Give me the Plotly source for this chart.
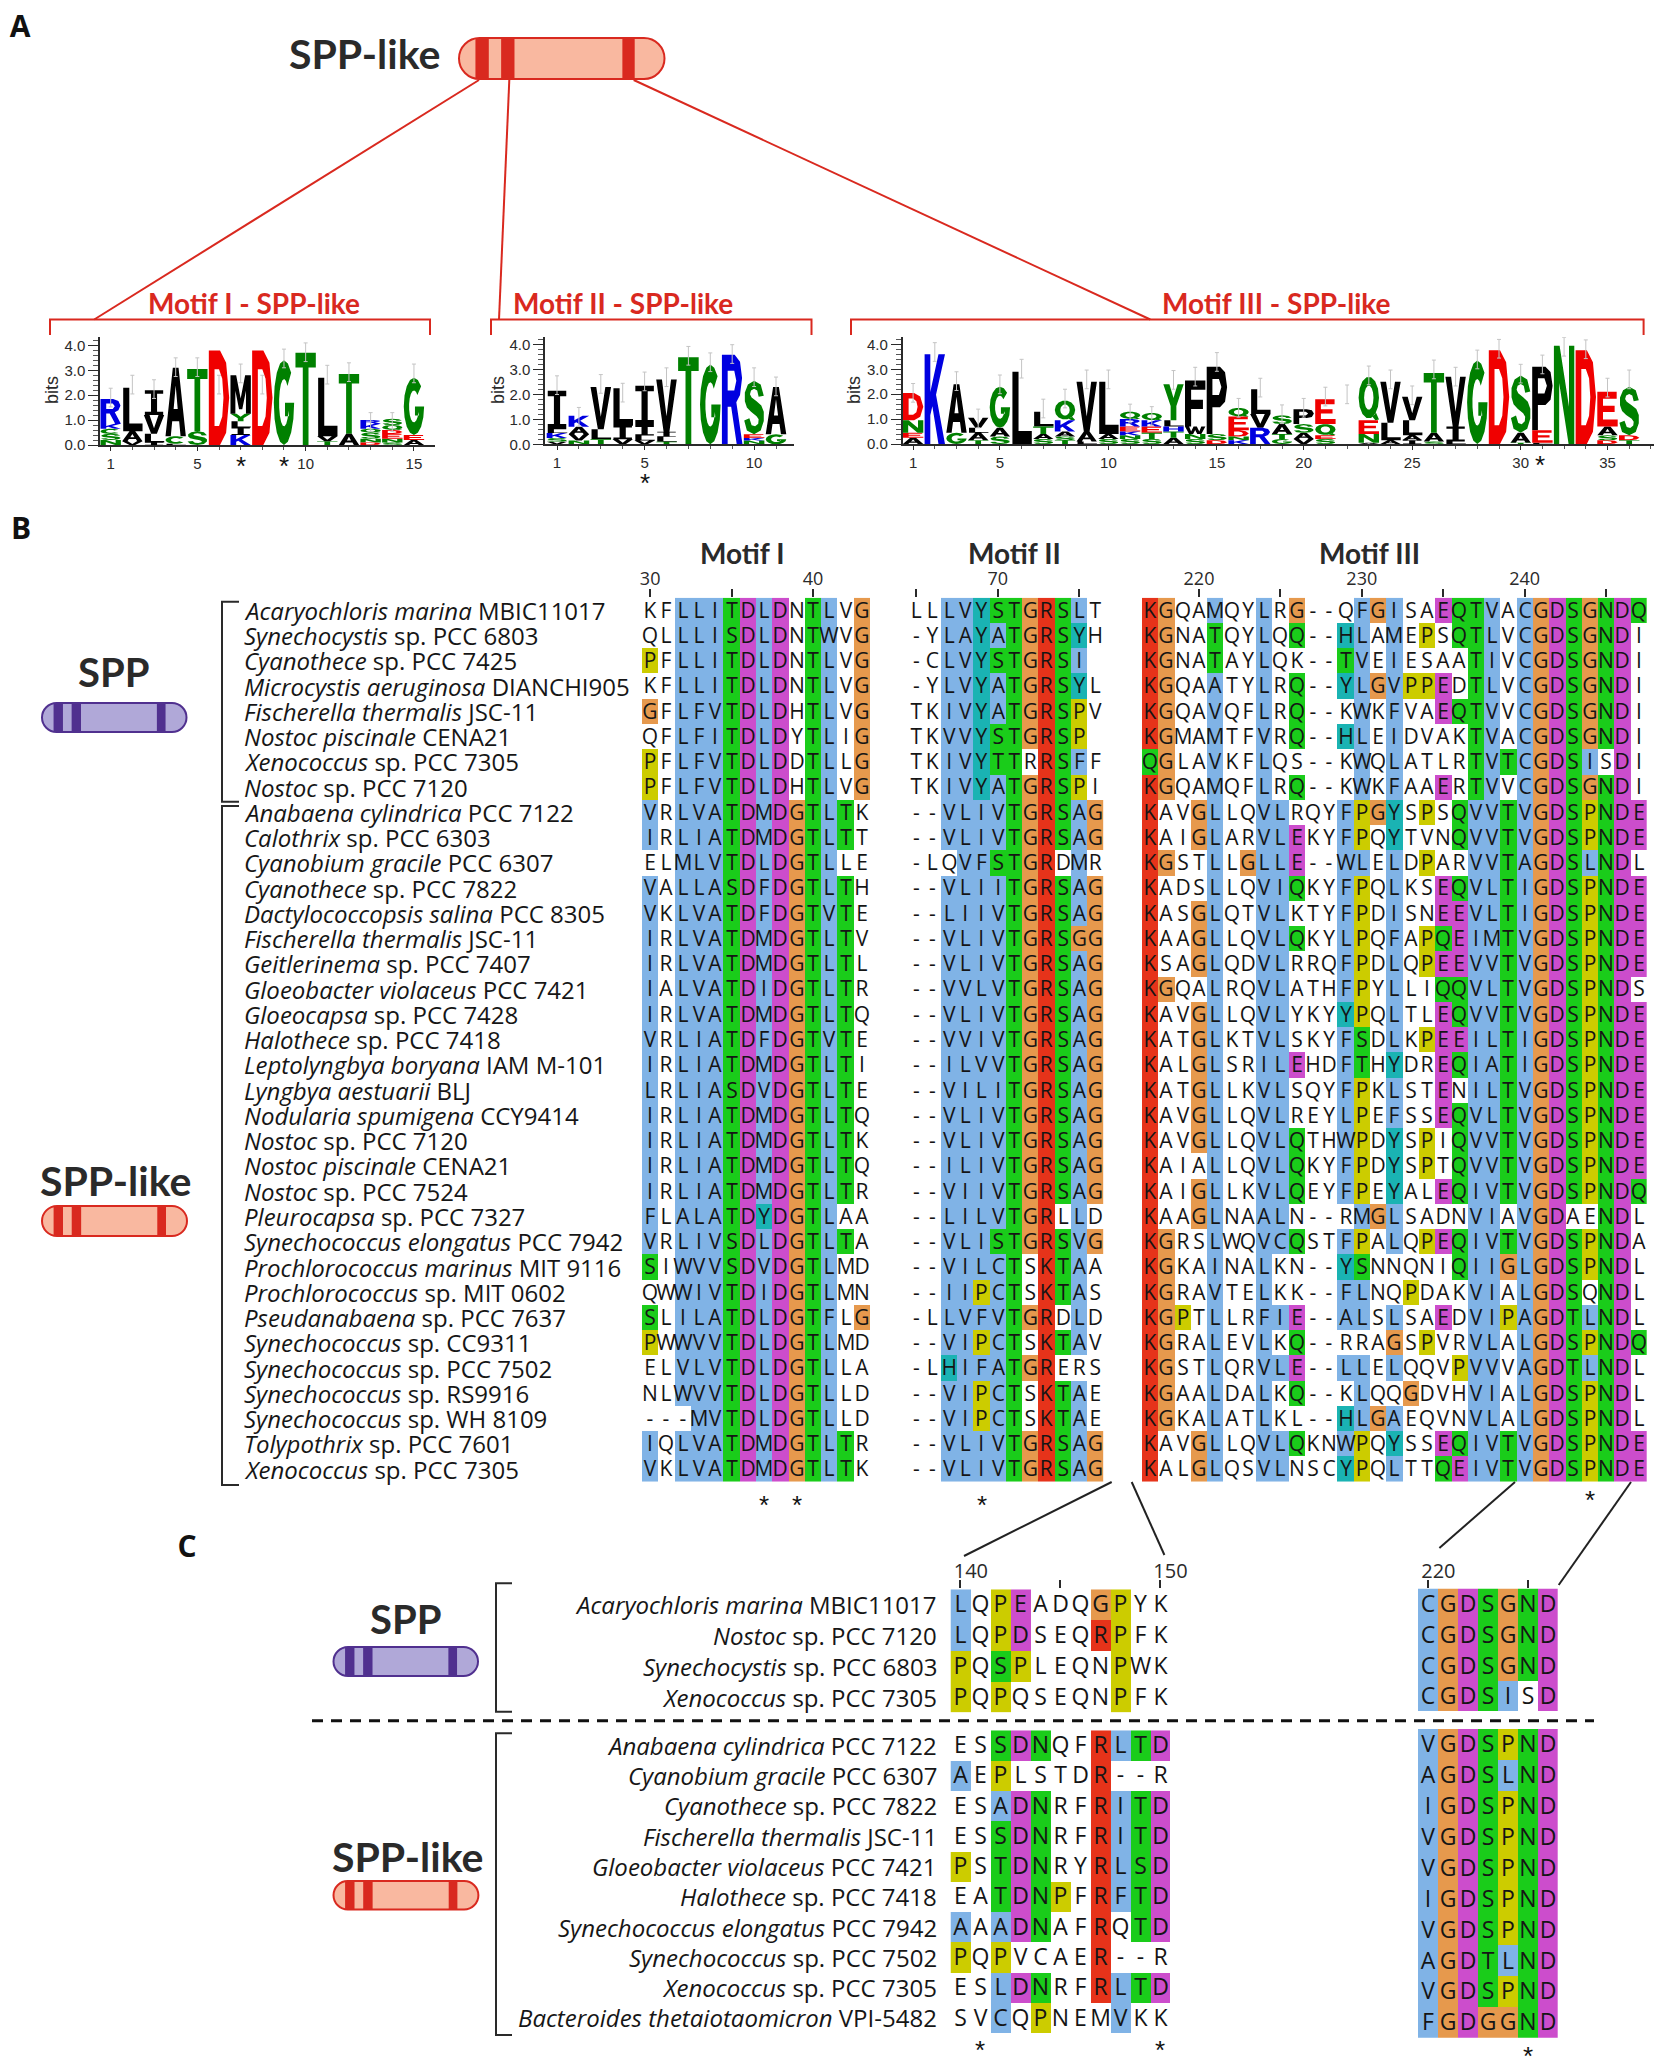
import math
import plotly.graph_objects as go

W, H = 1654, 2058

# ---- alignments: uppercase = coloured cell, lowercase = white cell ----
species_b = [
    ("Acaryochloris marina", "MBIC11017"), ("Synechocystis", "sp. PCC 6803"), ("Cyanothece", "sp. PCC 7425"),
    ("Microcystis aeruginosa", "DIANCHI905"), ("Fischerella thermalis", "JSC-11"), ("Nostoc piscinale", "CENA21"),
    ("Xenococcus", "sp. PCC 7305"), ("Nostoc", "sp. PCC 7120"), ("Anabaena cylindrica", "PCC 7122"),
    ("Calothrix", "sp. PCC 6303"), ("Cyanobium gracile", "PCC 6307"), ("Cyanothece", "sp. PCC 7822"),
    ("Dactylococcopsis salina", "PCC 8305"), ("Fischerella thermalis", "JSC-11"), ("Geitlerinema", "sp. PCC 7407"),
    ("Gloeobacter violaceus", "PCC 7421"), ("Gloeocapsa", "sp. PCC 7428"), ("Halothece", "sp. PCC 7418"),
    ("Leptolyngbya boryana", "IAM M-101"), ("Lyngbya aestuarii", "BLJ"), ("Nodularia spumigena", "CCY9414"),
    ("Nostoc", "sp. PCC 7120"), ("Nostoc piscinale", "CENA21"), ("Nostoc", "sp. PCC 7524"),
    ("Pleurocapsa", "sp. PCC 7327"), ("Synechococcus elongatus", "PCC 7942"), ("Prochlorococcus marinus", "MIT 9116"),
    ("Prochlorococcus", "sp. MIT 0602"), ("Pseudanabaena", "sp. PCC 7637"), ("Synechococcus", "sp. CC9311"),
    ("Synechococcus", "sp. PCC 7502"), ("Synechococcus", "sp. RS9916"), ("Synechococcus", "sp. WH 8109"),
    ("Tolypothrix", "sp. PCC 7601"), ("Xenococcus", "sp. PCC 7305"),
]

motif1 = [
    "kfLLITDLDnTLvG", "qlLLISDLDnTWvG", "PfLLITDLDnTLvG", "kfLLITDLDnTLvG", "GfLFVTDLDhTLvG", "qfLFITDLDyTLiG",
    "PfLFVTDLDdTLlG", "PfLFVTDLDhTLvG", "VrLVATDMDGTLTk", "IrLIATDMDGTLTt", "elMLVTDLDGTLle", "VaLLASDFDGTLTh",
    "VkLVATDFDGTVTe", "IrLVATDMDGTLTv", "IrLVATDMDGTLTl", "IaLVATDIDGTLTr", "IrLVATDMDGTLTq", "VrLIATDFDGTVTe",
    "IrLIATDMDGTLTi", "LrLIASDVDGTLTe", "IrLIATDMDGTLTq", "IrLIATDMDGTLTk", "IrLIATDMDGTLTq", "IrLIATDMDGTLTr",
    "FlALATDYDGTLaa", "VrLIVSDLDGTLTa", "SiWVVSDVDGTLmd", "qwWIVTDIDGTLmn", "SlILATDLDGTFlG", "PwWVVTDLDGTLmd",
    "elVLVTDLDGTLla", "nlWVVTDLDGTLld", "---MVTDLDGTLld", "IqLVATDMDGTLTr", "VkLVATDMDGTLTk",
]
motif2 = [
    "llLVYSTGRSLt", "-yLAYATGRSYh", "-cLVYSTGRSI ", "-yLVYATGRSYl", "tkIVYATGRSPv", "tkVVYSTGRSP ",
    "tkIVYTTrRSFf", "tkIVYATGRSPi", "--VLIVTGRSAG", "--VLIVTGRSAG", "-lqVFSTGRdMr", "--VLIITGRSAG",
    "--LIIVTGRSAG", "--VLIVTGRSGG", "--VLIVTGRSAG", "--VVLVTGRSAG", "--VLIVTGRSAG", "--VVIVTGRSAG",
    "--ILVVTGRSAG", "--VILITGRSAG", "--VLIVTGRSAG", "--VLIVTGRSAG", "--ILIVTGRSAG", "--VIIVTGRSAG",
    "--LILVTGRlLd", "--VLISTGRSVG", "--VILCTsKTAa", "--IIPCTsKTAs", "-lLVFVTGRdLd", "--VIPCTsKTAv",
    "-lHIFATGRers", "--VIPCTsKTAe", "--VIPCTsKTAe", "--VLIVTGRSAG", "--VLIVTGRSAG",
]
motif3 = [
    "KGqaMqyLrG--qFGIsaEQTVaCGDSGNDQ", "KGnaTqyLqQ--HLaMePsQTLvCGDSGNDi", "KGnaTayLqk--TVeIesaaTIvCGDSGNDi",
    "KGqaAtyLrQ--YLGVPPEdTLvCGDSGNDi", "KGqaVqfLrQ--kWkFvaEQTVvCGDSGNDi", "KGmaMtfVrQ--HLeIdvakTVaCGDSGNDi",
    "QGlaVkfLqs--kWqLatlrTVTCGDSIsDi", "KGqaMqfLrQ--kWkFaaErTVvCGDSGNDi", "KavGLlqVLrqyFPGYsPsQVVTVGDSPNDE",
    "KaiGLarVLEkyFPqYtvnQVVTVGDSPNDE", "KGstLlGLLE--WLeLdParVVTAGDSLNDl", "KadsLlqVIQkyFPqLksEQVLTIGDSPNDE",
    "KasGLqtVLktyFPdIsnEEVLTIGDSPNDE", "KaaGLlqVLQkyLPqFaPQEIMTVGDSPNDE", "KsaGLqdVLrrqFPdLqPEEVVTVGDSPNDE",
    "KGqaLrqVLathFPyLliQQVLTVGDSPNDs", "KavGLlqVLykyYPqLtlEQVVTVGDSPNDE", "KatGLktVLskyFSdLkPEEILTIGDSPNDE",
    "KalGLsrILEhdFThYdrEQIATIGDSPNDE", "KatGLlkVLsqyFPkLstEnILTVGDSPNDE", "KavGLlqVLreyLPeFssEQVLTVGDSPNDE",
    "KavGLlqVLQthWPdYsPiQVVTVGDSPNDE", "KaiaLlqVLQkyFPdYsPtQVVTVGDSPNDE", "KaiGLlkVLQeyFPeYalEQIVTVGDSPNDQ",
    "KaaGLnaALn--rMGLsadnVIaVGDaeNDl", "KGrsLwqVCQstFPaLqPEQIVTVGDSPNDa", "KGkaInaLkn--YSnnqniQIIGLGDSPNDl",
    "KGraVteLkk--FLnqPdakVIaLGDSqNDl", "KGPtLlrFIE--ALsLsaEdVIPAGDTLNDl", "KGraLevLkQ--rraGsPvrVLaLGDSPNDQ",
    "KGstLqrVLE--LLeLqqvPVVvAGDTLNDl", "KGaaLdaLkQ--kLqqGdvhVIaLGDSPNDl", "KGkaLatLkl--HLGAeqvnVLaLGDSPNDl",
    "KavGLlqVLQknWPqYssEQIVTVGDSPNDE", "KalGLqsVLnscYPqLttQEIVTVGDSPNDE",
]

species_c_top = [("Acaryochloris marina", "MBIC11017"), ("Nostoc", "sp. PCC 7120"),
                 ("Synechocystis", "sp. PCC 6803"), ("Xenococcus", "sp. PCC 7305")]
species_c_low = [("Anabaena cylindrica", "PCC 7122"), ("Cyanobium gracile", "PCC 6307"),
                 ("Cyanothece", "sp. PCC 7822"), ("Fischerella thermalis", "JSC-11"),
                 ("Gloeobacter violaceus", "PCC 7421"), ("Halothece", "sp. PCC 7418"),
                 ("Synechococcus elongatus", "PCC 7942"), ("Synechococcus", "sp. PCC 7502"),
                 ("Xenococcus", "sp. PCC 7305"), ("Bacteroides thetaiotaomicron", "VPI-5482")]
c_left_top = ["LqPEadqGPyk", "LqPDseqRPfk", "PqSPleqnPwk", "PqPqseqnPfk"]
c_left_low = ["esSDNqfRLTD", "AePlstdR--r", "esADNrfRITD", "esSDNrfRITD", "PsTDNryRLSD",
              "eaTDNPfRFTD", "AaADNafRqTD", "PqPvcaeR--r", "esLDNrfRLTD", "svCqPnemVkk"]
c_right_top = ["CGDSGND", "CGDSGND", "CGDSGND", "CGDSIsD"]
c_right_low = ["VGDSPND", "AGDSLND", "IGDSPND", "VGDSPND", "VGDSPND",
               "IGDSPND", "VGDSPND", "AGDTLND", "VGDSPND", "FGDGGND"]

# ---- sequence logos: one stack per position, bottom to top, heights in bits ----
logo1_stacks = [
    [("N", .2), ("S", .25), ("C", .2), ("K", .2), ("R", 1.0)],
    [("V", .15), ("A", .4), ("L", 1.75)],
    [("I", .1), ("L", .35), ("V", .75), ("I", 1.0)],
    [("L", .05), ("C", .3), ("A", 2.75)],
    [("S", .55), ("T", 2.5)],
    [("D", 3.8)],
    [("K", .4), ("I", .3), ("L", .25), ("Y", .3), ("M", 1.55)],
    [("D", 3.8)],
    [("G", 3.4)],
    [("T", 3.7)],
    [("T", .15), ("V", .2), ("L", 2.35)],
    [("A", .45), ("T", 2.4)],
    [("D", .1), ("N", .15), ("S", .25), ("Q", .15), ("K", .2), ("R", .15)],
    [("S", .1), ("N", .15), ("E", .2), ("D", .15), ("Q", .2), ("S", .25)],
    [("A", .2), ("E", .2), ("G", 2.3)],
]
logo1_bar_tops = [2.28, 2.8, 2.62, 3.5, 3.5, 2.8, 3.25, 2.8, 3.85, 4.1, 3.2, 3.3, 1.3, 1.3, 3.25]
logo1_stars = [7, 9]

logo2_stacks = [
    [("V", .1), ("S", .15), ("K", .2), ("L", .15), ("I", 1.55)],
    [("N", .15), ("V", .25), ("A", .3), ("K", .45)],
    [("T", .2), ("L", .4), ("V", 1.7)],
    [("V", .2), ("I", .55), ("L", 1.5)],
    [("V", .15), ("L", .2), ("I", .4), ("I", 1.6)],
    [("T", .1), ("L", .2), ("I", .2), ("V", 2.1)],
    [("T", 3.5)],
    [("G", 3.2)],
    [("R", 3.6)],
    [("N", .15), ("K", .1), ("E", .15), ("S", 2.15)],
    [("G", .4), ("A", 1.9)],
]
logo2_bar_tops = [2.75, 1.48, 2.8, 2.45, 2.9, 3.07, 3.93, 3.67, 4.0, 3.07, 2.7]
logo2_stars = [5]

logo3_stacks = [
    [("A", .25), ("E", .2), ("N", .5), ("D", 1.1)],
    [("K", 3.6)],
    [("G", .45), ("A", 1.95)],
    [("T", .15), ("A", .3), ("L", .2), ("V", .4)],
    [("S", .3), ("A", .35), ("G", 1.65)],
    [("L", 2.9)],
    [("S", .2), ("A", .2), ("T", .3), ("L", .6)],
    [("T", .15), ("S", .15), ("A", .2), ("K", .45), ("Q", .8)],
    [("L", .1), ("A", .4), ("V", 2.0)],
    [("S", .2), ("A", .2), ("L", 2.1)],
    [("S", .2), ("N", .15), ("K", .15), ("E", .2), ("R", .3), ("Q", .3)],
    [("S", .2), ("T", .25), ("E", .25), ("K", .25), ("Q", .3)],
    [("A", .25), ("T", .25), ("H", .2), ("L", .25), ("Y", 1.45)],
    [("S", .2), ("N", .2), ("W", .3), ("F", 1.85)],
    [("D", .15), ("S", .25), ("P", 2.7)],
    [("K", .15), ("N", .15), ("D", .25), ("E", .55), ("Q", .35)],
    [("R", .65), ("V", .55), ("L", 1.0)],
    [("G", .2), ("T", .2), ("A", .4), ("S", .35)],
    [("V", .2), ("A", .25), ("S", .35), ("P", .6)],
    [("S", .2), ("E", .15), ("Q", .45), ("E", 1.0)],
    [],
    [("A", .05), ("N", .35), ("E", .55), ("Q", 1.75)],
    [("A", .15), ("L", .7), ("V", 1.65)],
    [("I", .15), ("A", .2), ("L", .6), ("V", .95)],
    [("S", .1), ("A", .35), ("T", 2.4)],
    [("L", .1), ("I", .6), ("V", 2.0)],
    [("G", 3.35)],
    [("D", 3.77)],
    [("T", .05), ("A", .4), ("S", 2.3)],
    [("L", .05), ("E", .5), ("P", 2.55)],
    [("N", 3.95)],
    [("D", 3.77)],
    [("D", .15), ("S", .2), ("A", .35), ("E", 1.4)],
    [("T", .15), ("D", .2), ("S", 1.95)],
]
logo3_bar_tops = [2.43, 4.07, 2.9, 1.4, 2.77, 3.4, 1.8, 2.2, 2.97, 2.97, 1.6, 1.5, 2.95, 3.08, 3.67, 1.83, 2.64,
                  1.57, 1.83, 2.28, 2.37, 3.13, 2.97, 2.33, 3.37, 3.08, 3.77, 4.2, 3.2, 3.57, 4.28, 4.18, 2.64, 2.97]
logo3_stars = [29.9]
logo3_tickvals = [1, 5, 10, 15, 19, 24, 29, 33]
logo3_ticktext = ["1", "5", "10", "15", "20", "25", "30", "35"]

# ---- colours ----
CLASS_COLORS = ["#ffffff", "#80b3e6", "#e6331a", "#1acc1a", "#cc4dcc", "#e6994d", "#cccc00", "#1ab3b3"]
RES_CLASS = {}
for letters, k in [("AILMFWVC", 1), ("KR", 2), ("NQST", 3), ("ED", 4), ("G", 5), ("P", 6), ("HY", 7)]:
    for r in letters:
        RES_CLASS[r] = k
LOGO_COLORS = {"K": "#0000e0", "R": "#0000e0", "H": "#0000e0", "D": "#f00000", "E": "#f00000",
               "S": "#008000", "T": "#008000", "N": "#008000", "Q": "#008000", "G": "#008000", "Y": "#008000",
               "C": "#008000"}
RED = "#d9291f"
PURPLE = "#50308f"
DARK = "#2a2a2a"


def arc(cx, cy, rx, ry, a0, a1, n=14):
    pts = []
    for i in range(n + 1):
        a = math.radians(a0 + (a1 - a0) * i / n)
        pts.append((cx + rx * math.cos(a), cy + ry * math.sin(a)))
    return pts


def poly(s):
    return [tuple(float(v) for v in p.split(",")) for p in s.split()]


# stretched logo letters, unit box outlines (a logo letter has to be squeezed to its bit height,
# which a font can't do, so these are filled paths)
GLYPHS = {
    "A": [poly("0,0 .36,1 .64,1 1,0 .74,0 .67,.22 .33,.22 .26,0"), poly(".4,.4 .6,.4 .5,.74")],
    "C": [arc(.5, .5, .5, .5, 40, 320) + arc(.5, .5, .23, .28, 320, 40)],
    "D": [poly("0,0 .55,0 .85,.13 1,.5 .85,.87 .55,1 0,1"), poly(".28,.2 .5,.2 .66,.3 .72,.5 .66,.7 .5,.8 .28,.8")],
    "E": [poly("0,0 0,1 .95,1 .95,.8 .28,.8 .28,.6 .85,.6 .85,.42 .28,.42 .28,.2 1,.2 1,0")],
    "F": [poly("0,0 0,1 1,1 1,.8 .3,.8 .3,.58 .88,.58 .88,.38 .3,.38 .3,0")],
    "G": [arc(.5, .5, .5, .5, 45, 360) + poly(".55,.5 .55,.34 .74,.34") + arc(.5, .5, .24, .28, 340, 45)],
    "H": [poly("0,0 0,1 .28,1 .28,.6 .72,.6 .72,1 1,1 1,0 .72,0 .72,.4 .28,.4 .28,0")],
    "I": [poly(".05,0 .05,.14 .35,.14 .35,.86 .05,.86 .05,1 .95,1 .95,.86 .65,.86 .65,.14 .95,.14 .95,0")],
    "K": [poly("0,0 0,1 .28,1 .28,.58 .68,1 1,1 .56,.55 1,0 .68,0 .38,.42 .28,.32 .28,0")],
    "L": [poly(".05,0 .05,1 .35,1 .35,.18 1,.18 1,0")],
    "M": [poly("0,0 0,1 .28,1 .5,.4 .72,1 1,1 1,0 .76,0 .76,.6 .58,.12 .42,.12 .24,.6 .24,0")],
    "N": [poly("0,0 0,1 .28,1 .74,.38 .74,1 1,1 1,0 .72,0 .26,.62 .26,0")],
    "P": [poly("0,0 0,1 .65,1 .9,.92 1,.7 .9,.48 .65,.4 .28,.4 .28,0"), poly(".28,.58 .28,.82 .6,.82 .72,.7 .6,.58")],
    "Q": [arc(.5, .52, .5, .48, 0, 360), arc(.5, .52, .23, .28, 0, 360), poly(".68,.08 .85,.18 1,.02 .82,0")],
    "R": [poly("0,0 0,1 .62,1 .88,.92 .98,.74 .88,.55 .7,.47 1,0 .72,0 .45,.42 .28,.42 .28,0"),
          poly(".28,.6 .28,.82 .6,.82 .7,.71 .6,.6")],
    "S": [poly(".97,.72 .82,.93 .5,1 .2,.93 .05,.78 .05,.62 .15,.5 .35,.42 .62,.34 .72,.28 .7,.2 .55,.15 .38,.17 "
               ".27,.3 .02,.26 .15,.07 .5,0 .82,.07 .97,.25 .97,.42 .85,.54 .62,.62 .38,.69 .3,.75 .35,.82 .5,.85 "
               ".65,.82 .72,.7")],
    "T": [poly(".36,0 .36,.84 0,.84 0,1 1,1 1,.84 .64,.84 .64,0")],
    "V": [poly(".36,0 0,1 .28,1 .5,.3 .72,1 1,1 .64,0")],
    "W": [poly(".2,0 0,1 .2,1 .3,.35 .42,1 .58,1 .7,.35 .8,1 1,1 .8,0 .6,0 .5,.55 .4,0")],
    "Y": [poly(".36,0 .36,.4 0,1 .3,1 .5,.62 .7,1 1,1 .64,.4 .64,0")],
}

fig = go.Figure()
layout = {}
shapes = []
notes = []
axis_no = 1


def new_axes(x0, x1, y_top, y_bot):
    global axis_no
    axis_no += 1
    xa = dict(domain=[x0 / W, x1 / W], anchor=f"y{axis_no}", showgrid=False, zeroline=False, automargin=False)
    ya = dict(domain=[1 - y_bot / H, 1 - y_top / H], anchor=f"x{axis_no}", showgrid=False, zeroline=False,
              automargin=False)
    return axis_no, xa, ya


def add_block(rows, first, x0, x1, y_top, y_bot, tickvals=None, ticktext=None, fsize=21, tsize=18, standoff=-3):
    n, xa, ya = new_axes(x0, x1, y_top, y_bot)
    ncol = len(rows[0])
    xs = list(range(first, first + ncol))
    z = [[RES_CLASS.get(c, 0) if c.isupper() else 0 for c in row] for row in rows]
    text = [[c.upper() for c in row] for row in rows]
    fig.add_trace(go.Heatmap(
        z=z, x=xs, y=list(range(len(rows))), text=text, texttemplate="%{text}",
        textfont=dict(family="Open Sans", size=fsize, color="#151515"),
        colorscale=[s for i, c in enumerate(CLASS_COLORS) for s in ([i / 8, c], [(i + 1) / 8, c])],
        zmin=-0.5, zmax=7.5, showscale=False, hoverinfo="skip",
        xaxis=f"x{n}", yaxis=f"y{n}"))
    xa.update(range=[first - .5, first + ncol - .5], side="top", showline=False)
    if tickvals:
        xa.update(tickmode="array", tickvals=tickvals, ticktext=ticktext, ticks="outside", ticklen=8, tickwidth=2,
                  tickcolor=DARK, ticklabelstandoff=standoff, tickfont=dict(family="Open Sans", size=tsize, color=DARK))
    else:
        xa.update(showticklabels=False, ticks="")
    ya.update(range=[len(rows) - .5, -.5], showticklabels=False, ticks="", showline=False)
    layout[f"xaxis{n}"] = xa
    layout[f"yaxis{n}"] = ya
    return n


def add_stars(n, positions, y, size=26):
    # the * glyph sits high in its line box, so push the box down to centre the star on y
    for p in positions:
        notes.append(dict(x=p, y=1 - (y + .3 * size) / H, xref=f"x{n}", yref="paper", yanchor="middle", text="*",
                          showarrow=False, font=dict(family="Liberation Sans", size=size, color="#111111")))


def add_logo(stacks, bar_tops, x_left, x_right, tick1_x, pitch, y_top, y_zero, tickvals, ticktext, stars, star_y,
             bits_x):
    n, xa, ya = new_axes(x_left, x_right, y_top, y_zero)
    xr = [(x_left - tick1_x) / pitch + 1, (x_right - tick1_x) / pitch + 1]
    ymax = (y_zero - y_top) / 24.9
    by_colour = {}
    for i, stack in enumerate(stacks, start=1):
        base = 0
        for letter, h in stack:
            col = LOGO_COLORS.get(letter, "#000000")
            for outline in GLYPHS[letter]:
                pts = [(i - .47 + .94 * px, base + h * py) for px, py in outline]
                seg = "M" + " L".join(f"{px:.3f} {py:.3f}" for px, py in pts) + " Z "
                by_colour[col] = by_colour.get(col, "") + seg
            base += h
    for col, path in by_colour.items():
        shapes.append(dict(type="path", path=path, fillcolor=col, line=dict(width=0), layer="below",
                           xref=f"x{n}", yref=f"y{n}"))
    fig.add_trace(go.Scatter(
        x=list(range(1, len(bar_tops) + 1)), y=bar_tops, mode="markers", marker=dict(size=1, opacity=0),
        error_y=dict(type="data", symmetric=False, array=[0] * len(bar_tops), arrayminus=[.75] * len(bar_tops),
                     color="#c4c4c4", thickness=1, width=2),
        hoverinfo="skip", showlegend=False, xaxis=f"x{n}", yaxis=f"y{n}"))
    font = dict(family="Liberation Sans", size=15, color=DARK)
    xa.update(range=xr, tickmode="array", tickvals=tickvals, ticktext=ticktext, ticks="outside", ticklen=4,
              tickcolor=DARK, tickfont=font, showline=True, linecolor=DARK, linewidth=1.5,
              minor=dict(tick0=1, dtick=1, ticks="outside", ticklen=3, tickcolor="#555555"))
    ya.update(range=[0, ymax], tick0=0, dtick=1, tickformat=".1f", ticks="outside", ticklen=10, tickcolor=DARK,
              tickfont=font, showline=True, linecolor=DARK, linewidth=1.5,
              minor=dict(dtick=.2, ticks="outside", ticklen=5, tickcolor="#555555"))
    layout[f"xaxis{n}"] = xa
    layout[f"yaxis{n}"] = ya
    add_stars(n, stars, star_y)
    notes.append(dict(x=bits_x, y=390, xref="x", yref="y", text="bits", textangle=-90, showarrow=False,
                      font=dict(family="Liberation Sans", size=18, color=DARK)))


def add_species(n, names, x, anchor, size=24):
    for i, (ital, rest) in enumerate(names):
        notes.append(dict(x=x / W, y=i, xref="paper", yref=f"y{n}", xanchor=anchor, yanchor="middle",
                          text=f"<i>{ital}</i> {rest}", showarrow=False,
                          font=dict(family="Open Sans", size=size, color="#161616")))


def label(x, y, text, size, color=DARK, family="Lato", bold=True):
    notes.append(dict(x=x, y=y, xref="x", yref="y", text=f"<b>{text}</b>" if bold else text, showarrow=False,
                      font=dict(family=family, size=size, color=color)))


def line(x0, y0, x1, y1, color=DARK, width=2, dash="solid"):
    shapes.append(dict(type="line", x0=x0, y0=y0, x1=x1, y1=y1, xref="x", yref="y",
                       line=dict(color=color, width=width, dash=dash)))


def bracket(x0, x1, y0, y1, color=DARK, width=2):
    shapes.append(dict(type="path", path=f"M{x1} {y0} L{x0} {y0} L{x0} {y1} L{x1} {y1}", xref="x", yref="y",
                       line=dict(color=color, width=width)))


def red_bracket(x0, x1):
    shapes.append(dict(type="path", path=f"M{x0} 335 L{x0} 319.5 L{x1} 319.5 L{x1} 335", xref="x", yref="y",
                       line=dict(color=RED, width=2)))


def pill(x0, x1, y0, y1, fill, stroke):
    w = x1 - x0
    r = (y1 - y0) / 2
    k = .55 * r
    path = (f"M{x0 + r} {y0} L{x1 - r} {y0} C{x1 - r + k} {y0} {x1} {y0 + r - k} {x1} {y0 + r} "
            f"C{x1} {y0 + r + k} {x1 - r + k} {y1} {x1 - r} {y1} L{x0 + r} {y1} "
            f"C{x0 + r - k} {y1} {x0} {y0 + r + k} {x0} {y0 + r} C{x0} {y0 + r - k} {x0 + r - k} {y0} {x0 + r} {y0} Z")
    shapes.append(dict(type="path", path=path, fillcolor=fill, line=dict(color=stroke, width=2), xref="x", yref="y"))
    for a, b in [(.08, .145), (.205, .27), (.795, .855)]:
        shapes.append(dict(type="rect", x0=x0 + a * w, x1=x0 + b * w, y0=y0, y1=y1, fillcolor=stroke,
                           line=dict(width=0), xref="x", yref="y"))


# ---- panel A ----
add_logo(logo1_stacks, logo1_bar_tops, 100, 435, 110.7, 21.66, 337.3, 445, [1, 5, 10, 15], ["1", "5", "10", "15"],
         logo1_stars, 458, 52)
add_logo(logo2_stacks, logo2_bar_tops, 545, 794, 557, 21.9, 336.7, 444.3, [1, 5, 10], ["1", "5", "10"],
         logo2_stars, 475, 498)
add_logo(logo3_stacks, logo3_bar_tops, 902.5, 1654, 913.1, 21.7, 337.3, 444, logo3_tickvals, logo3_ticktext,
         logo3_stars, 457, 854)

pill(459, 664.5, 38, 79, "#f9b8a0", RED)
label(364, 53, "SPP-like", 41)
line(479, 80, 94.2, 319.5, RED)
line(509.3, 80, 499, 319.5, RED)
line(633.7, 80, 1150.3, 319.5, RED)
red_bracket(50, 430)
red_bracket(491, 811.5)
red_bracket(851, 1643.6)
label(254, 303, "Motif I - SPP-like", 28, RED)
label(623, 303, "Motif II - SPP-like", 28, RED)
label(1276, 303, "Motif III - SPP-like", 28, RED)

# ---- panel B ----
b1 = add_block(motif1, 30, 642, 870, 597.7, 1481.7, [30, 35, 40], ["30", "", "40"])
b2 = add_block(motif2, 65, 908.3, 1103.6, 597.7, 1481.7, [65, 70, 75], ["", "70", ""])
b3 = add_block(motif3, 217, 1142, 1646.7, 597.7, 1481.7, [220, 225, 230, 235, 240, 245],
               ["220", "", "230", "", "240", ""])
add_species(b1, species_b, 242, "left")
add_stars(b1, [37, 39], 1497)
add_stars(b2, [69], 1497)
add_stars(b3, [244], 1492)
label(742, 553, "Motif I", 28)
label(1014, 553, "Motif II", 28)
label(1369, 553, "Motif III", 28)
bracket(222, 239, 601.7, 801.7)
bracket(222, 239, 806, 1485)
label(113.6, 672, "SPP", 40)
pill(42, 186.5, 703, 732, "#b0a8d8", PURPLE)
label(115.5, 1180, "SPP-like", 41)
pill(42, 187, 1206, 1236, "#f9b8a0", RED)

# ---- panel C ----
nb = "\u00a0" * 4
c1 = add_block(c_left_top, 140, 950.5, 1170, 1589.3, 1712.5, [140, 145, 150], [nb + "140", "", nb + "150"],
               fsize=23, tsize=20, standoff=-6)
c2 = add_block(c_right_top, 220, 1418, 1557.7, 1588.5, 1711, [220, 225], [nb + "220", ""], fsize=23, tsize=20,
               standoff=-6)
c3 = add_block(c_left_low, 140, 950.5, 1170, 1730.3, 2033, fsize=23)
c4 = add_block(c_right_low, 220, 1418, 1557.7, 1729, 2037.7, fsize=23)
add_species(c1, species_c_top, 939, "right")
add_species(c3, species_c_low, 939, "right")
add_stars(c3, [141, 150], 2042)
add_stars(c4, [225], 2048)
bracket(496, 512, 1583.3, 1711.7)
bracket(496, 512, 1733.3, 2035)
line(312, 1720.7, 1594, 1720.7, "#111111", 3, "11px,8px")
label(405, 1619, "SPP", 40)
pill(333.5, 478, 1647, 1676, "#b0a8d8", PURPLE)
label(407.5, 1856, "SPP-like", 41)
pill(333.5, 478.4, 1881, 1909.5, "#f9b8a0", RED)
line(1111.7, 1482, 964, 1556, "#222222")
line(1131.7, 1482, 1164.4, 1555, "#222222")
line(1515, 1482, 1439.4, 1548, "#222222")
line(1631, 1482, 1558.7, 1585, "#222222")

# panel letters on the full-page axes
fig.add_trace(go.Scatter(x=[20, 21, 187], y=[29, 531, 1549], mode="text", text=["A", "B", "C"],
                         textfont=dict(family="Open Sans", size=30, color="#111111", weight="bold"),
                         hoverinfo="skip", showlegend=False, xaxis="x", yaxis="y"))

layout["xaxis"] = dict(domain=[0, 1], range=[0, W], visible=False, fixedrange=True, automargin=False)
layout["yaxis"] = dict(domain=[0, 1], range=[H, 0], visible=False, fixedrange=True, automargin=False)
fig.update_layout(template="none", width=W, height=H, margin=dict(l=0, r=0, t=0, b=0, pad=0), paper_bgcolor="white",
                  plot_bgcolor="rgba(0,0,0,0)", showlegend=False, shapes=shapes, annotations=notes, **layout)
# the page's default 8px body margin would push the whole figure off the window
fig.write_html("out.html", config={"displayModeBar": False}, post_script="document.body.style.margin='0';")
